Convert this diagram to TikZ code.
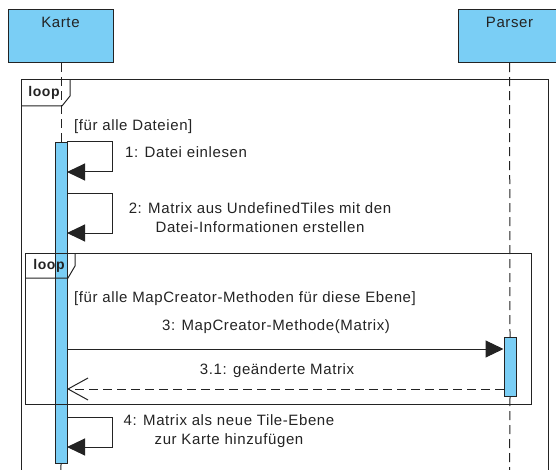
\documentclass[tikz,border=0pt]{standalone}
\usepackage{fontspec}
\setmainfont{Liberation Sans}[LetterSpace=4]
\usetikzlibrary{arrows.meta}
\definecolor{lifefill}{RGB}{122,206,245}
\definecolor{edge}{RGB}{35,35,35}
\definecolor{ink}{RGB}{35,35,35}

\begin{document}
\begin{tikzpicture}[x=1pt,y=-1pt,
  txt/.style={font=\fontsize{15}{19}\selectfont, inner sep=0pt, text=ink},
  looptxt/.style={font=\fontsize{14}{16}\selectfont\bfseries, inner sep=0pt, text=ink},
  headbox/.style={draw=edge, line width=1.1pt, fill=lifefill, inner sep=0pt},
  actbar/.style={draw=edge, line width=1pt, fill=lifefill, inner sep=0pt, minimum width=12pt},
  lifeline/.style={draw=edge, line width=1pt, dash pattern=on 9pt off 5pt},
  frame/.style={draw=edge, line width=1pt},
  call/.style={draw=edge, line width=1pt, -{Triangle[length=18pt,width=17pt]}},
  reply/.style={draw=edge, line width=1pt, dash pattern=on 9pt off 5pt,
    -{Straight Barb[length=20pt,width=22pt,line width=1pt]}}]

\useasboundingbox (0,0) rectangle (556,470);
\clip (0,0) rectangle (556,470);

% lifeline heads
\node[headbox, anchor=north west, minimum width=105pt, minimum height=53pt] (karte) at (8,9) {};
\node[txt] (kartetitle) at (60.5,22) {Karte};
\node[headbox, anchor=north west, minimum width=102pt, minimum height=53pt] (parser) at (458,9) {};
\node[txt] (parsertitle) at (509.5,22) {Parser};

% activation bars
\node[actbar, anchor=north west, minimum height=321pt] (karteact) at (55,142) {};
\node[actbar, anchor=north west, minimum height=59pt] (parseract) at (503.5,337) {};

% lifelines
\coordinate (karteend) at (60.5,475);
\coordinate (parserend) at (509.5,475);
\draw[lifeline] (karte.south) -- (karteact.north -| karte.south);
\draw[lifeline] (karteact.south -| karte.south) -- (karteend);
\draw[lifeline] (parser.south) -- (parseract.north);
\draw[lifeline] (parseract.south) -- (parserend);

% outer loop frame
\draw[frame] (21,480) -- (21,80) -- (548,80) -- (548,480);
\draw[frame] (21,106) -- (62,106) -- (70,96) -- (70,80);
\node[looptxt] (outerloop) at (44,93) {loop};
\node[txt, anchor=west] (guardouter) at (74,127) {[für alle Dateien]};

% message 1
\coordinate (m1s) at (67,142);
\coordinate (m1e) at (67,172);
\draw[call] (m1s) -- (112,142) -- (112,172) -- (m1e);
\node[txt, anchor=west] (m1label) at (125,152) {1: Datei einlesen};

% message 2
\coordinate (m2s) at (67,194);
\coordinate (m2e) at (67,233);
\draw[call] (m2s) -- (112,194) -- (112,233) -- (m2e);
\node[txt, align=center] (m2label) at (260,218)
  {2: Matrix aus UndefinedTiles mit den\\Datei-Informationen erstellen};

% inner loop frame
\draw[frame] (25,253) rectangle (531,404);
\draw[frame] (25,278) -- (68,278) -- (75,266) -- (75,253);
\node[looptxt] (innerloop) at (49,266) {loop};
\node[txt, anchor=west] (guardinner) at (74,299)
  {[für alle MapCreator-Methoden für diese Ebene]};

% message 3 and its reply
\coordinate (m3s) at (67,349);
\coordinate (m3e) at (503.5,349);
\draw[call] (m3s) -- (m3e);
\node[txt] (m3label) at (276,327) {3: MapCreator-Methode(Matrix)};
\coordinate (r3s) at (503.5,389);
\coordinate (r3e) at (67,389);
\draw[reply] (r3s) -- (r3e);
\node[txt] (r3label) at (277,371) {3.1: geänderte Matrix};

% message 4
\coordinate (m4s) at (67,417);
\coordinate (m4e) at (67,447);
\draw[call] (m4s) -- (112,417) -- (112,447) -- (m4e);
\node[txt, align=center] (m4label) at (229,431)
  {4: Matrix als neue Tile-Ebene\\zur Karte hinzufügen};
\end{tikzpicture}
\end{document}
